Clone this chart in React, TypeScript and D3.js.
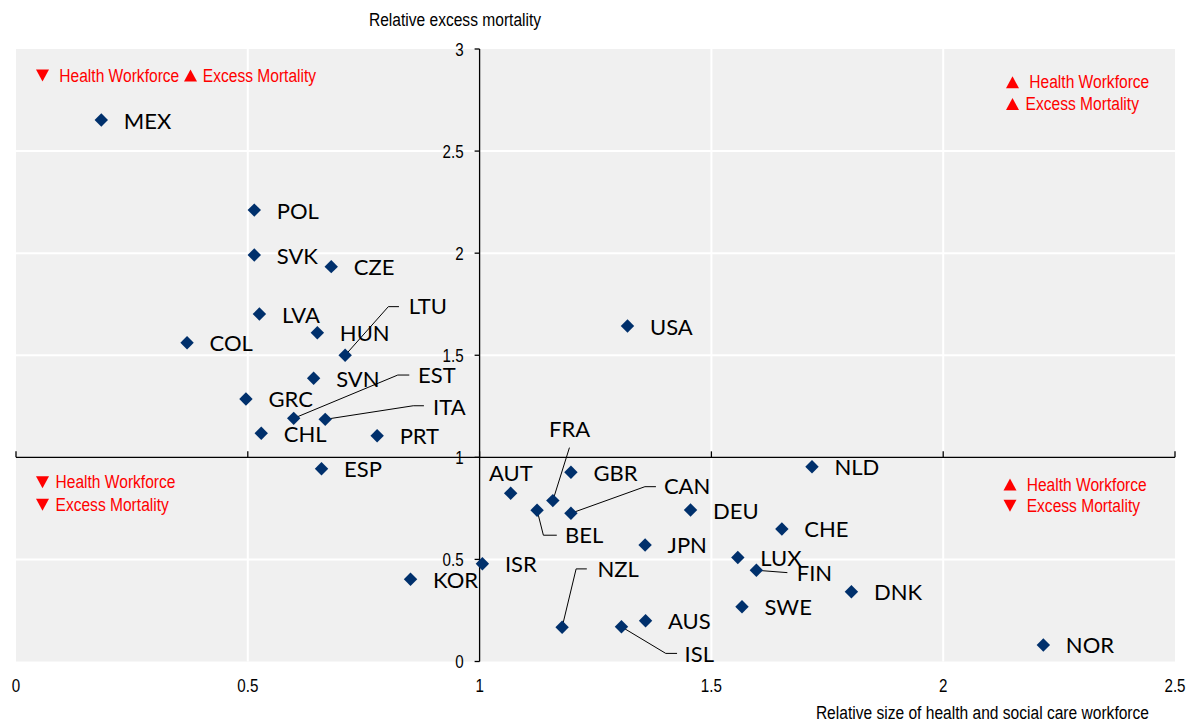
import React from 'react';
import * as d3 from 'd3';

// ---------- DATA ----------
const countries = ['MEX','POL','SVK','CZE','LVA','HUN','COL','LTU','SVN','GRC','EST','ITA','CHL','PRT','ESP','USA','NLD','GBR','AUT','FRA','BEL','CAN','DEU','CHE','JPN','LUX','FIN','ISR','KOR','DNK','SWE','AUS','NZL','ISL','NOR'];
const workforce = [0.184,0.514,0.514,0.680,0.525,0.650,0.369,0.710,0.642,0.496,0.599,0.667,0.529,0.779,0.659,1.319,1.717,1.197,1.067,1.158,1.124,1.197,1.455,1.652,1.357,1.557,1.597,1.006,0.851,1.802,1.566,1.358,1.178,1.306,2.216];
const mortality = [2.652,2.211,1.991,1.934,1.702,1.610,1.561,1.500,1.387,1.286,1.191,1.186,1.118,1.106,0.944,1.643,0.954,0.927,0.824,0.788,0.741,0.726,0.742,0.649,0.571,0.509,0.447,0.479,0.403,0.342,0.268,0.200,0.168,0.170,0.081];
const xTicks = [0, 0.5, 1, 1.5, 2, 2.5];
const yTicks = [0, 0.5, 1, 1.5, 2, 2.5, 3];
const xTitle = 'Relative size of health and social care workforce';
const yTitle = 'Relative excess mortality';
const hw = 'Health Workforce';
const em = 'Excess Mortality';

// ---------- LAYOUT ----------
const W = 1188, H = 722;
const x = d3.scaleLinear().domain([0, 2.5]).range([16, 1175]);
const y = d3.scaleLinear().domain([0, 3]).range([661.5, 49]);

const SANS = "'Liberation Sans',Arial,sans-serif";
const LABEL = "Lato,'Open Sans',sans-serif";
const NAVY = '#00306C';
const RED = '#FF0000';

type LabelLayout = { dx: number; dy: number; anchor?: string; leader?: [number, number][] };
const defaultLabel: LabelLayout = { dx: 22.5, dy: 8.5 };
const labelLayout: Record<string, LabelLayout> = {
  LTU: { dx: 63.5, dy: -41, leader: [[43.2, -48.6], [53.8, -48.6]] },
  EST: { dx: 124.4, dy: -35.3, leader: [[104.1, -43.3], [115.6, -43.3]] },
  ITA: { dx: 107.9, dy: -4.3, leader: [[88, -13.6], [98.7, -13.6]] },
  FRA: { dx: 16.8, dy: -63.7, anchor: 'middle', leader: [[16.6, -53]] },
  CAN: { dx: 93, dy: -19, leader: [[74, -26.6], [85, -26.6]] },
  BEL: { dx: 28, dy: 33, leader: [[6.3, 25], [19.7, 25]] },
  NZL: { dx: 35.3, dy: -50, leader: [[14, -58.3], [24.7, -58.3]] },
  ISL: { dx: 63.1, dy: 35, leader: [[44.3, 26.6], [55.6, 26.6]] },
  FIN: { dx: 40.4, dy: 10.4, leader: [[31, 2.4]] },
  AUT: { dx: -21.7, dy: -12.6 },
};

const diamond = d3.symbol().type(d3.symbolSquare).size(90)();

function tri(x0: number, base: number, up: boolean) {
  const w = 13, h = 12;
  const top = base - h;
  return up
    ? `M${x0},${base}L${x0 + w},${base}L${x0 + w / 2},${top}Z`
    : `M${x0},${top}L${x0 + w},${top}L${x0 + w / 2},${base}Z`;
}

// Narrow text (Arial Narrow look): Liberation Sans squeezed horizontally
function NText(props: { x: number; y: number; anchor?: string; size?: number; fill?: string; children: React.ReactNode }) {
  const { x: tx, y: ty, anchor = 'start', size = 19, fill = '#000', children } = props;
  return (
    <text transform={`translate(${tx},${ty}) scale(0.82,1)`} textAnchor={anchor} fontFamily={SANS} fontSize={size} fill={fill}>
      {children}
    </text>
  );
}

export default function App() {
  const pts = countries.map((c, i) => ({ c, vx: workforce[i], vy: mortality[i] }));
  return (
    <svg width={W} height={H} style={{ position: 'absolute', left: 0, top: 0, background: '#fff' }}>
      {/* plot background */}
      <rect x={x(0)} y={y(3)} width={x(2.5) - x(0)} height={y(0) - y(3)} fill="#F0F0F0" />
      {/* gridlines */}
      {xTicks.filter(t => t !== 0 && t !== 1 && t !== 2.5).map(t => (
        <line key={'gx' + t} x1={x(t)} x2={x(t)} y1={y(3)} y2={y(0)} stroke="#fff" strokeWidth={2} />
      ))}
      {yTicks.filter(t => t !== 0 && t !== 1 && t !== 3).map(t => (
        <line key={'gy' + t} x1={x(0)} x2={x(2.5)} y1={y(t)} y2={y(t)} stroke="#fff" strokeWidth={2} />
      ))}
      {/* axes crossing at (1,1) */}
      <line x1={x(0)} x2={x(2.5)} y1={y(1)} y2={y(1)} stroke="#000" strokeWidth={1.3} />
      <line x1={x(1)} x2={x(1)} y1={y(0)} y2={y(3)} stroke="#000" strokeWidth={1.3} />
      {xTicks.map(t => (
        <line key={'xt' + t} x1={x(t)} x2={x(t)} y1={y(1)} y2={y(1) - 6} stroke="#000" strokeWidth={1.3} />
      ))}
      {yTicks.map(t => (
        <line key={'yt' + t} x1={x(1) - 5} x2={x(1)} y1={y(t)} y2={y(t)} stroke="#000" strokeWidth={1.3} />
      ))}
      {xTicks.map(t => (
        <NText key={'xl' + t} x={x(t)} y={692} anchor="middle" size={18.5}>{String(t)}</NText>
      ))}
      {yTicks.map(t => (
        <NText key={'yl' + t} x={x(1) - 16} y={y(t) + 6.5} anchor="end" size={18.5}>{String(t)}</NText>
      ))}
      <NText x={455} y={26} anchor="middle">{yTitle}</NText>
      <NText x={1149} y={719} anchor="end">{xTitle}</NText>

      {/* quadrant notes */}
      <g fill={RED}>
        <path d={tri(36, 81.5, false)} />
        <NText x={59.3} y={81.5} fill={RED}>{hw}</NText>
        <path d={tri(184, 81.5, true)} />
        <NText x={202.8} y={81.5} fill={RED}>{em}</NText>

        <path d={tri(1006, 88.3, true)} />
        <NText x={1029.3} y={88.3} fill={RED}>{hw}</NText>
        <path d={tri(1006, 110, true)} />
        <NText x={1025.6} y={110} fill={RED}>{em}</NText>

        <path d={tri(36, 488.3, false)} />
        <NText x={55.5} y={488.3} fill={RED}>{hw}</NText>
        <path d={tri(36, 510.7, false)} />
        <NText x={55.5} y={510.7} fill={RED}>{em}</NText>

        <path d={tri(1003.5, 490.5, true)} />
        <NText x={1026.7} y={490.5} fill={RED}>{hw}</NText>
        <path d={tri(1003.5, 511.7, false)} />
        <NText x={1026.7} y={511.7} fill={RED}>{em}</NText>
      </g>

      {/* leaders */}
      {pts.map(p => {
        const L = labelLayout[p.c];
        if (!L || !L.leader) return null;
        const px = x(p.vx), py = y(p.vy);
        const line = d3.line()([[px, py], ...L.leader.map(([a, b]) => [px + a, py + b] as [number, number])]);
        return <path key={'ld' + p.c} d={line || ''} fill="none" stroke="#000" strokeWidth={1} />;
      })}
      {/* markers */}
      {pts.map(p => (
        <path key={'m' + p.c} d={diamond || ''} transform={`translate(${x(p.vx)},${y(p.vy)}) rotate(45)`} fill={NAVY} />
      ))}
      {/* labels */}
      {pts.map(p => {
        const L = labelLayout[p.c] || defaultLabel;
        return (
          <text key={'t' + p.c} x={x(p.vx) + L.dx} y={y(p.vy) + L.dy} textAnchor={L.anchor || 'start'}
            fontFamily={LABEL} fontSize={22} fill="#000">{p.c}</text>
        );
      })}
    </svg>
  );
}
